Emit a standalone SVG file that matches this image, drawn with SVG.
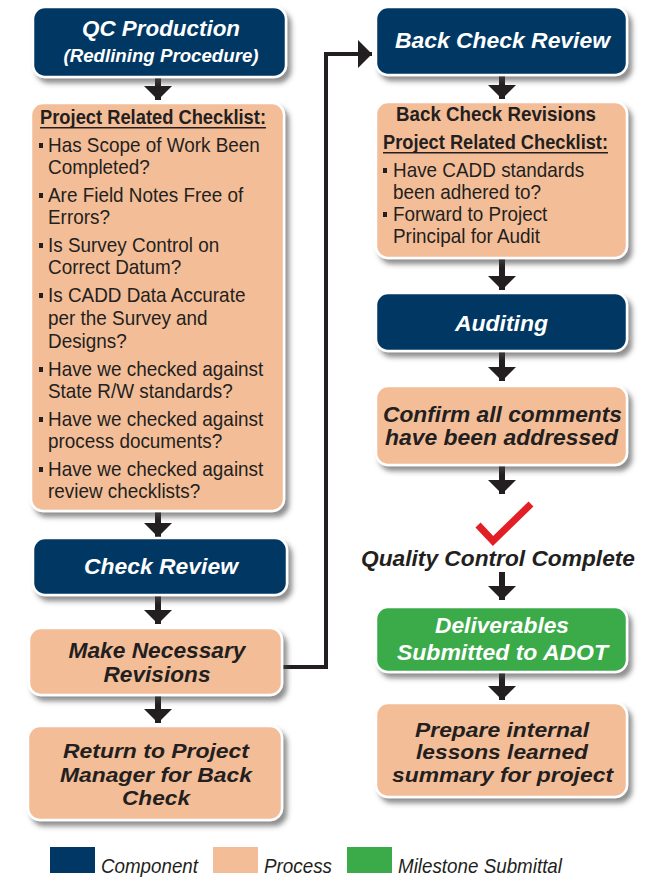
<svg xmlns="http://www.w3.org/2000/svg" width="656" height="890" viewBox="0 0 656 890">
<style>
.box{stroke:#fff;stroke-width:2.5;filter:url(#sh)}
.comp{fill:#003764}
.proc{fill:#f3bd98}
.mile{fill:#3bab4a}
.lbl{font-family:"Liberation Sans",Arial,sans-serif;font-weight:bold;font-style:italic;font-size:22.5px;text-anchor:middle}
.sm{font-size:21px}
.w{fill:#fff}
.d{fill:#231f20}
.hd{font-family:"Liberation Sans",Arial,sans-serif;font-weight:bold;font-size:20px;fill:#231f20}
.it{font-family:"Liberation Sans",Arial,sans-serif;font-size:21px;fill:#231f20}
.bul{fill:#231f20}
.leg{font-family:"Liberation Sans",Arial,sans-serif;font-style:italic;font-size:21px;fill:#231f20}
.ar{stroke:#231f20;stroke-width:6;fill:none;marker-end:url(#ah)}
</style>
<defs>
<filter id="sh" x="-10%" y="-10%" width="130%" height="140%">
<feDropShadow dx="4" dy="5" stdDeviation="2.5" flood-color="#444" flood-opacity="0.6"/>
</filter>
<marker id="ah" markerUnits="userSpaceOnUse" markerWidth="28" markerHeight="28" refX="14" refY="14" orient="auto">
<path d="M0,0 L14,14 L0,28 z" fill="#231f20"/>
</marker>
</defs>

<g id="connectors">
<line class="ar" x1="158" y1="77" x2="158" y2="100"/>
<line class="ar" x1="158" y1="511" x2="158" y2="537"/>
<line class="ar" x1="158" y1="595" x2="158" y2="624"/>
<line class="ar" x1="158" y1="695" x2="158" y2="723"/>
<line class="ar" x1="502" y1="75" x2="502" y2="99"/>
<line class="ar" x1="502" y1="258" x2="502" y2="290"/>
<line class="ar" x1="502" y1="351" x2="502" y2="381"/>
<line class="ar" x1="502" y1="465" x2="502" y2="494"/>
<line class="ar" x1="502" y1="572" x2="502" y2="600"/>
<line class="ar" x1="502" y1="672" x2="502" y2="700"/>
<path d="M282,667 H326 V54 H372" stroke="#231f20" stroke-width="4" fill="none" marker-end="url(#ah)"/>
</g>

<g id="qc-production">
<rect class="box comp" x="33" y="7" width="253" height="70" rx="12"/>
<text class="lbl w" x="161" y="36" textLength="158" lengthAdjust="spacingAndGlyphs">QC Production</text>
<text class="lbl w" x="161" y="62" style="font-size:19px" textLength="195" lengthAdjust="spacingAndGlyphs">(Redlining Procedure)</text>
</g>

<g id="checklist">
<rect class="box proc" x="31" y="103" width="253" height="408" rx="12"/>
<text class="hd" x="40" y="124" textLength="226" lengthAdjust="spacingAndGlyphs">Project Related Checklist:</text>
<rect class="bul" x="40" y="127" width="226" height="1.5"/>
<rect class="bul" x="39" y="143" width="4" height="5"/>
<rect class="bul" x="39" y="193" width="4" height="5"/>
<rect class="bul" x="39" y="243" width="4" height="5"/>
<rect class="bul" x="39" y="293" width="4" height="5"/>
<rect class="bul" x="39" y="367" width="4" height="5"/>
<rect class="bul" x="39" y="417" width="4" height="5"/>
<rect class="bul" x="39" y="467" width="4" height="5"/>
<g transform="translate(48 0) scale(0.9 1)">
<text class="it" x="0" y="152">Has Scope of Work Been</text>
<text class="it" x="0" y="174">Completed?</text>
<text class="it" x="0" y="202">Are Field Notes Free of</text>
<text class="it" x="0" y="224">Errors?</text>
<text class="it" x="0" y="252">Is Survey Control on</text>
<text class="it" x="0" y="274">Correct Datum?</text>
<text class="it" x="0" y="302">Is CADD Data Accurate</text>
<text class="it" x="0" y="325">per the Survey and</text>
<text class="it" x="0" y="348">Designs?</text>
<text class="it" x="0" y="376">Have we checked against</text>
<text class="it" x="0" y="398">State R/W standards?</text>
<text class="it" x="0" y="426">Have we checked against</text>
<text class="it" x="0" y="448">process documents?</text>
<text class="it" x="0" y="476">Have we checked against</text>
<text class="it" x="0" y="498">review checklists?</text>
</g>
</g>

<g id="check-review">
<rect class="box comp" x="33" y="538" width="254" height="57" rx="12"/>
<text class="lbl w" x="161" y="574" textLength="154" lengthAdjust="spacingAndGlyphs">Check Review</text>
</g>

<g id="make-revisions">
<rect class="box proc" x="29" y="628" width="253" height="67" rx="12"/>
<text class="lbl d" x="157" y="658" textLength="177" lengthAdjust="spacingAndGlyphs">Make Necessary</text>
<text class="lbl d" x="157" y="682" textLength="107" lengthAdjust="spacingAndGlyphs">Revisions</text>
</g>

<g id="return-pm">
<rect class="box proc" x="28" y="726" width="254" height="94" rx="12"/>
<text class="lbl d sm" x="156" y="758" textLength="186" lengthAdjust="spacingAndGlyphs">Return to Project</text>
<text class="lbl d sm" x="156" y="782" textLength="192" lengthAdjust="spacingAndGlyphs">Manager for Back</text>
<text class="lbl d sm" x="156" y="805" textLength="68" lengthAdjust="spacingAndGlyphs">Check</text>
</g>

<g id="back-check-review">
<rect class="box comp" x="376" y="7" width="251" height="68" rx="12"/>
<text class="lbl w" x="502.5" y="48" textLength="215" lengthAdjust="spacingAndGlyphs">Back Check Review</text>
</g>

<g id="back-check-revisions">
<rect class="box proc" x="376" y="102" width="251" height="156" rx="12"/>
<text class="hd" x="496" y="121" text-anchor="middle" textLength="200" lengthAdjust="spacingAndGlyphs">Back Check Revisions</text>
<text class="hd" x="383" y="149" textLength="225" lengthAdjust="spacingAndGlyphs">Project Related Checklist:</text>
<rect class="bul" x="383" y="152" width="225" height="1.5"/>
<rect class="bul" x="383" y="168" width="4" height="5"/>
<rect class="bul" x="383" y="212" width="4" height="5"/>
<g transform="translate(393 0) scale(0.9 1)">
<text class="it" x="0" y="177">Have CADD standards</text>
<text class="it" x="0" y="199">been adhered to?</text>
<text class="it" x="0" y="221">Forward to Project</text>
<text class="it" x="0" y="243">Principal for Audit</text>
</g>
</g>

<g id="auditing">
<rect class="box comp" x="376" y="293" width="251" height="58" rx="12"/>
<text class="lbl w" x="501.5" y="331" textLength="93" lengthAdjust="spacingAndGlyphs">Auditing</text>
</g>

<g id="confirm-comments">
<rect class="box proc" x="376" y="386" width="251" height="79" rx="12"/>
<text class="lbl d" x="502.5" y="422" textLength="239" lengthAdjust="spacingAndGlyphs">Confirm all comments</text>
<text class="lbl d" x="501.5" y="445" textLength="233" lengthAdjust="spacingAndGlyphs">have been addressed</text>
</g>

<g id="qc-complete">
<path d="M478,525 L493,541 L531,504" stroke="#e31f26" stroke-width="7" fill="none"/>
<text class="lbl d" x="498" y="566" textLength="274" lengthAdjust="spacingAndGlyphs">Quality Control Complete</text>
</g>

<g id="deliverables">
<rect class="box mile" x="376" y="607" width="251" height="65" rx="12"/>
<text class="lbl w" x="502" y="633" textLength="134" lengthAdjust="spacingAndGlyphs">Deliverables</text>
<text class="lbl w" x="502.5" y="660" textLength="211" lengthAdjust="spacingAndGlyphs">Submitted to ADOT</text>
</g>

<g id="lessons-learned">
<rect class="box proc" x="376" y="703" width="251" height="94" rx="12"/>
<text class="lbl d sm" x="502" y="737" textLength="174" lengthAdjust="spacingAndGlyphs">Prepare internal</text>
<text class="lbl d sm" x="502" y="759" textLength="172" lengthAdjust="spacingAndGlyphs">lessons learned</text>
<text class="lbl d sm" x="502.5" y="782" textLength="221" lengthAdjust="spacingAndGlyphs">summary for project</text>
</g>

<g id="legend">
<rect class="comp" x="50" y="847" width="45" height="26"/>
<text class="leg" x="101" y="873" textLength="97" lengthAdjust="spacingAndGlyphs">Component</text>
<rect class="proc" x="213" y="847" width="45" height="26"/>
<text class="leg" x="264" y="873" textLength="68" lengthAdjust="spacingAndGlyphs">Process</text>
<rect class="mile" x="347" y="847" width="45" height="26"/>
<text class="leg" x="398" y="873" textLength="164" lengthAdjust="spacingAndGlyphs">Milestone Submittal</text>
</g>
</svg>
